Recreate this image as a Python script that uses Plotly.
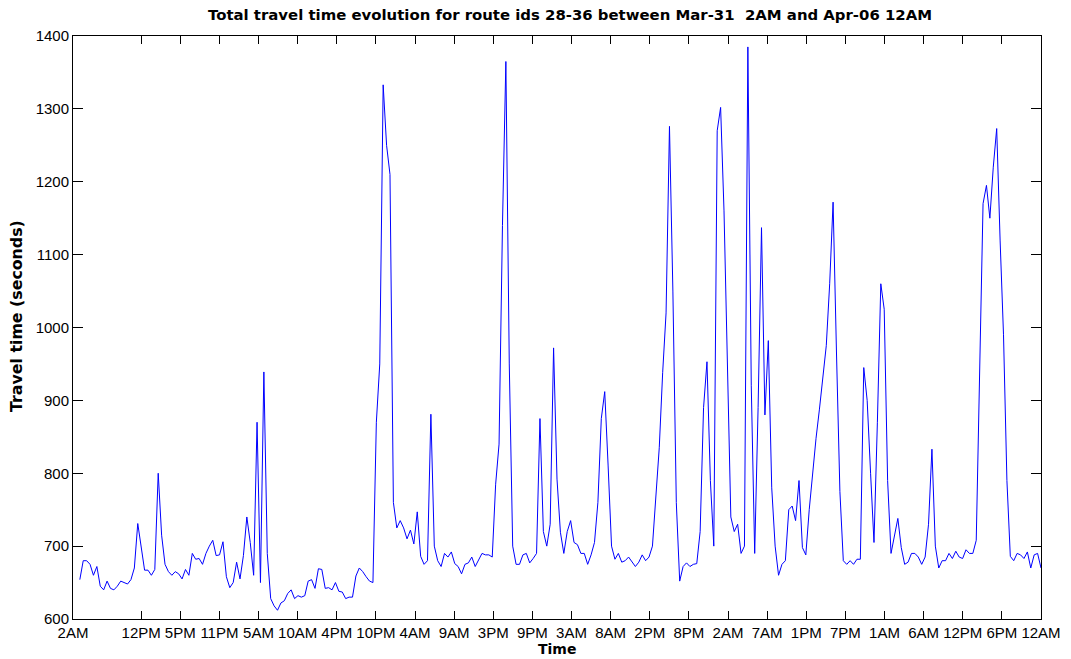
import plotly.graph_objects as go

# Travel time samples (seconds), one every 30 minutes, first sample 1 h after Mar-31 2AM
start_offset_h = 1.0
step_h = 0.5
travel_time = [
    654, 680, 680, 675, 660, 672, 645, 640, 652, 642,
    640, 645, 652, 650, 648, 654, 670, 731, 700, 667,
    667, 660, 668, 800, 715, 675, 665, 660, 665, 662,
    655, 668, 660, 690, 682, 683, 675, 690, 700, 708,
    687, 688, 706, 658, 643, 650, 678, 655, 687, 740,
    705, 660, 870, 650, 939, 690, 628, 618, 612, 622,
    625, 635, 640, 628, 632, 630, 632, 652, 654, 642,
    669, 668, 642, 643, 640, 650, 638, 637, 628, 630,
    630, 659, 670, 665, 658, 652, 650, 870, 950, 1333,
    1250, 1210, 760, 725, 735, 725, 710, 722, 703, 747,
    686, 675, 680, 881, 700, 680, 672, 690, 685, 692,
    676, 672, 662, 675, 677, 685, 672, 680, 690, 688,
    688, 685, 785, 840, 1140, 1365, 950, 700, 675, 675,
    688, 690, 677, 683, 690, 875, 720, 700, 730, 972,
    792, 719, 690, 720, 735, 705, 702, 690, 690, 675,
    688, 705, 760, 875, 912, 810, 700, 682, 690, 678,
    680, 685, 678, 672, 678, 688, 680, 685, 700, 775,
    835, 938, 1020, 1276, 1050, 760, 652, 672, 677, 672,
    675, 676, 720, 890, 953, 790, 700, 1270, 1302, 1160,
    960, 740, 720, 730, 690, 700, 1385, 920, 690, 890,
    1137, 880, 982, 780, 700, 660, 675, 680, 750, 755,
    735, 790, 698, 688, 750, 800, 848, 888, 930, 975,
    1060, 1172, 965, 775, 680, 675, 680, 675, 682, 682,
    945, 900, 800, 705, 870, 1060, 1025, 790, 690, 715,
    738, 698, 675, 678, 690, 690, 685, 675, 685, 730,
    833, 700, 670, 680, 680, 690, 683, 693, 685, 683,
    695, 690, 690, 708, 960, 1170, 1195, 1150, 1220, 1273,
    1120, 990, 790, 686, 680, 690, 688, 683, 692, 670,
    688, 690, 670,
]

# X axis: hours since Mar-31 2AM; labels are evenly spaced from 12PM to the end
x_range_h = [0, 142]
tick_labels = ["2AM", "12PM", "5PM", "11PM", "5AM", "10AM", "4PM", "10PM", "4AM",
               "9AM", "3PM", "9PM", "3AM", "8AM", "2PM", "8PM", "2AM", "7AM",
               "1PM", "7PM", "1AM", "6AM", "12PM", "6PM", "12AM"]
first_tick_h = 10.0
n_int = len(tick_labels) - 2
tick_vals = [0.0] + [first_tick_h + k * (x_range_h[1] - first_tick_h) / n_int
                     for k in range(n_int + 1)]

y_ticks = [600, 700, 800, 900, 1000, 1100, 1200, 1300, 1400]

hours = [start_offset_h + i * step_h for i in range(len(travel_time))]

fig = go.Figure()
fig.add_trace(go.Scatter(
    x=hours, y=travel_time, mode="lines",
    line=dict(color="#0000ff", width=1),
    hoverinfo="x+y",
))

tick_family = "Liberation Sans, Arial, sans-serif"
title_family = "DejaVu Sans, Verdana, sans-serif"
W, H = 1071, 659
ML, MR, MT, MB = 73, 30, 36, 40
PW, PH = W - ML - MR, H - MT - MB

fig.update_layout(
    width=W, height=H,
    margin=dict(l=ML, r=MR, t=MT, b=MB, autoexpand=False),
    paper_bgcolor="white", plot_bgcolor="white",
    showlegend=False,
    font=dict(family=tick_family, color="black", size=15),
    title=dict(
        text="<b>Total travel time evolution for route ids 28-36 between Mar-31  2AM and Apr-06 12AM</b>",
        x=570 / W, xref="container", xanchor="center",
        y=1 - 15 / H, yref="container", yanchor="middle",
        font=dict(size=14.9, family=title_family, color="black"),
    ),
    annotations=[
        dict(text="<b>Time</b>", xref="paper", yref="paper",
             x=0.5, y=-(649 - (MT + PH)) / PH, xanchor="center", yanchor="middle",
             showarrow=False, font=dict(size=14, family=title_family, color="black")),
        dict(text="<b>Travel time (seconds)</b>", xref="paper", yref="paper",
             x=-(ML - 17) / PW, y=1 - (316 - MT) / PH, xanchor="center", yanchor="middle",
             textangle=-90, showarrow=False,
             font=dict(size=15.8, family=title_family, color="black")),
    ],
)
fig.update_xaxes(
    range=x_range_h, tickmode="array", tickvals=tick_vals, ticktext=tick_labels,
    showgrid=False, zeroline=False, automargin=False,
    showline=True, linecolor="black", linewidth=1, mirror="ticks",
    ticks="inside", ticklen=8, tickcolor="black", tickwidth=1,
    tickfont=dict(size=15, family=tick_family, color="black"),
)
fig.update_yaxes(
    range=[600, 1400], tickmode="array", tickvals=y_ticks,
    showgrid=False, zeroline=False, automargin=False,
    showline=True, linecolor="black", linewidth=1, mirror="ticks",
    ticks="inside", ticklen=10, tickcolor="black", tickwidth=1,
    tickfont=dict(size=15, family=tick_family, color="black"),
)

fig.write_html("out.html", config={"displayModeBar": False},
               post_script="document.body.style.margin='0';")
